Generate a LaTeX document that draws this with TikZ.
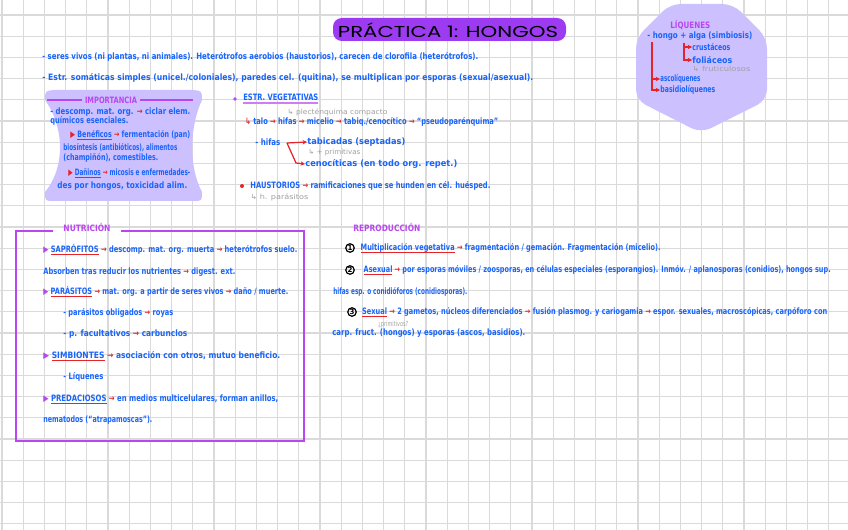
\documentclass[tikz,border=0pt]{standalone}
\usepackage{fontspec}
\setmainfont{DejaVu Sans}
\newfontfamily\titlefont{Poppins}
\usepackage{graphicx}
\usetikzlibrary{arrows.meta, positioning}

\definecolor{ink}{RGB}{25,100,250}
\definecolor{redink}{RGB}{230,35,40}
\definecolor{purp}{RGB}{185,70,240}
\definecolor{lav}{RGB}{205,192,255}
\definecolor{gridc}{RGB}{218,218,218}
\definecolor{grayink}{RGB}{160,160,160}

% 1 px de la hoja
\newlength\pxu \setlength\pxu{0.02cm}
\newcommand{\fitw}[2]{\resizebox{#1\pxu}{\height}{#2}}
\newcommand{\ra}{{\color{redink}→}}
\newcommand{\rtri}{{\color{redink}▶}}
\newcommand{\ptri}{{\color{purp}▶}}
\newsavebox\ulbox
\newcommand{\rul}[1]{\sbox\ulbox{#1}\rlap{\color{redink}\rule[-1.3pt]{\wd\ulbox}{0.5pt}}\usebox\ulbox}
\newcommand{\pul}[1]{\sbox\ulbox{#1}\rlap{\color{purp!70}\rule[-1.6pt]{\wd\ulbox}{0.8pt}}\usebox\ulbox}

\tikzset{
    note/.style={anchor=west, inner sep=0pt, text=ink, font=\fontsize{5}{6}\selectfont\bfseries},
    gnote/.style={note, text=grayink, font=\fontsize{4}{5}\selectfont},
    head/.style={note, text=purp},
    redarr/.style={draw=redink, line width=0.7pt, -{Stealth[length=2.5pt,width=2.5pt]}},
    numc/.style={circle, draw=black, line width=0.7pt, inner sep=0pt, minimum size=0.17cm, font=\fontsize{4}{4}\selectfont\bfseries},
    nutframe/.style={draw=purp, line width=0.9pt},
    gridline/.style={draw=gridc, line width=0.75pt}
}

\begin{document}
\begin{tikzpicture}[x=0.02cm, y=-0.02cm]
    \fill[white] (0,0) rectangle (848,530);
    \useasboundingbox (0,0) rectangle (848,530);
    % cuadricula
    \foreach \i in {0,...,39} \draw[gridline] ({2+21.2*\i},0) -- ({2+21.2*\i},530);
    \foreach \j in {0,...,24} \draw[gridline] (0,{15+21.2*\j}) -- (848,{15+21.2*\j});

    % titulo
    \fill[purp!85!blue, rounded corners=5pt] (333,18) rectangle (566,41);
    \node[inner sep=0pt, font=\titlefont\fontsize{9}{10}\selectfont] (titulo) at (448,30) {\fitw{220}{PRÁCTICA 1: HONGOS}};

    \node[note] (gen1) at (42,57) {\fitw{436}{- seres vivos (ni plantas, ni animales). Heterótrofos aerobios (haustorios), carecen de clorofila (heterótrofos).}};
    \node[note] (gen2) at (42,78) {\fitw{491}{- Estr. somáticas simples (unicel./coloniales), paredes cel. (quitina), se multiplican por esporas (sexual/asexual).}};

    % importancia
    \fill[lav] (45,100) .. controls (45,91) .. (54,90) -- (193,90) .. controls (202,91) .. (202,100)
        .. controls (189,128) and (189,168) .. (202,192) .. controls (202,201) .. (193,201)
        -- (54,201) .. controls (45,201) .. (45,192) .. controls (65,168) and (65,128) .. (45,100) -- cycle;
    \node[head, anchor=center, inner xsep=0.06cm] (imp) at (111,100) {\fitw{52}{IMPORTANCIA}};
    \draw[purp, line width=0.7pt] (47,100) -- (imp.west);
    \draw[purp, line width=0.7pt] (imp.east) -- (193,100);
    \node[note] (imp1) at (50,112) {\fitw{140}{- descomp. mat. org. \ra{} ciclar elem.}};
    \node[note] (imp2) at (50,121) {\fitw{78}{químicos esenciales.}};
    \node[note] (imp3) at (70,135) {\fitw{120}{\rtri{} \rul{Benéficos} \ra{} fermentación (pan)}};
    \node[note] (imp4) at (63,148) {\fitw{114}{biosíntesis (antibióticos), alimentos}};
    \node[note] (imp5) at (63,158) {\fitw{95}{(champiñón), comestibles.}};
    \node[note] (imp6) at (68,173) {\fitw{122}{\rtri{} \rul{Dañinos} \ra{} micosis e enfermedades-}};
    \node[note] (imp7) at (57,186) {\fitw{130}{des por hongos, toxicidad alim.}};

    % estructuras vegetativas
    \fill[purp] (235,99) circle (1.8);
    \node[note] (veg) at (243,99) {\fitw{75}{\pul{ESTR. VEGETATIVAS}}};
    \node[gnote] (plec) at (287,112) {\fitw{100}{↳ plecténquima compacto}};
    \node[note] (talo) at (245,122) {\fitw{253}{{\color{redink}↳} talo \ra{} hifas \ra{} micelio \ra{} tabiq./cenocítico \ra{} “pseudoparénquima”}};
    \node[note] (hifas) at (255,142) {\fitw{25}{- hifas}};
    \node[note] (tab) at (307,142) {\fitw{98}{tabicadas (septadas)}};
    \node[gnote] (prim) at (308,153) {\fitw{52}{↳ + primitivas}};
    \node[note] (ceno) at (305,164) {\fitw{152}{cenocíticas (en todo org. repet.)}};
    \coordinate (hf) at (287,143);
    \draw[redarr] (hf) -- (tab.west);
    \draw[redarr] (hf) -- (296,163) -- (ceno.west);
    \fill[redink] (242,186) circle (2);
    \node[note] (haus) at (250,186) {\fitw{240}{HAUSTORIOS \ra{} ramificaciones que se hunden en cél. huésped.}};
    \node[gnote] (hpar) at (250,197) {\fitw{58}{↳ h. parásitos}};

    % liquenes
    \fill[lav, rounded corners=6pt] (670,4) -- (733,4) -- (767,38) -- (767,100) -- (701,133) -- (636,100) -- (636,38) -- cycle;
    \node[head] (liq) at (670,25) {\fitw{40}{LÍQUENES}};
    \node[note] (liq1) at (647,36) {\fitw{105}{- hongo + alga (simbiosis)}};
    \node[note] (crus) at (692,47) {\fitw{38}{crustáceos}};
    \node[note] (foli) at (692,60) {\fitw{40}{foliáceos}};
    \node[gnote] (frut) at (692,69) {\fitw{58}{↳ fruticulosos}};
    \node[note] (asco) at (660,79) {\fitw{40}{ascolíquenes}};
    \node[note] (basi) at (660,90) {\fitw{55}{basidiolíquenes}};
    \coordinate (lqa) at (652,42);
    \coordinate (lqb) at (684,43);
    \draw[redarr] (lqa) |- (asco.west);
    \draw[redarr] (lqa) |- (basi.west);
    \draw[redarr] (lqb) |- (crus.west);
    \draw[redarr] (lqb) |- (foli.west);

    % nutricion
    \node[head, anchor=center, inner xsep=0.2cm] (nutri) at (87,227) {\fitw{47}{NUTRICIÓN}};
    \coordinate (nf) at (0,231);
    \draw[nutframe] (nutri.west |- nf) -- (16,231) -- (16,441) -- (304,441) -- (304,231) -- (nutri.east |- nf);
    \node[note] (sap) at (43,250) {\fitw{254}{\ptri{} \rul{SAPRÓFITOS} \ra{} descomp. mat. org. muerta \ra{} heterótrofos suelo.}};
    \node[note] (sap2) at (43,272) {\fitw{192}{Absorben tras reducir los nutrientes \ra{} digest. ext.}};
    \node[note] (par) at (43,292) {\fitw{245}{\ptri{} \rul{PARÁSITOS} \ra{} mat. org. a partir de seres vivos \ra{} daño / muerte.}};
    \node[note] (par2) at (63,313) {\fitw{110}{- parásitos obligados \ra{} royas}};
    \node[note] (par3) at (63,334) {\fitw{124}{- p. facultativos \ra{} carbunclos}};
    \node[note] (sim) at (43,356) {\fitw{237}{\ptri{} \rul{SIMBIONTES} \ra{} asociación con otros, mutuo beneficio.}};
    \node[note] (sim2) at (63,377) {\fitw{40}{- Líquenes}};
    \node[note] (pre) at (43,399) {\fitw{235}{\ptri{} \rul{PREDACIOSOS} \ra{} en medios multicelulares, forman anillos,}};
    \node[note] (pre2) at (43,420) {\fitw{109}{nematodos (“atrapamoscas”).}};

    % reproduccion
    \node[head] (repro) at (353,227) {\fitw{67}{REPRODUCCIÓN}};
    \node[numc] (c1) at (350,248) {1};
    \node[note, right=0.11cm of c1] (r1) {\fitw{300}{\rul{Multiplicación vegetativa} \ra{} fragmentación / gemación. Fragmentación (micelio).}};
    \node[numc] (c2) at (350,270) {2};
    \node[note, right=0.17cm of c2] (r2) {\fitw{467}{\rul{Asexual} \ra{} por esporas móviles / zoosporas, en células especiales (esporangios). Inmóv. / aplanosporas (conidios), hongos sup.}};
    \node[note] (r3) at (333,292) {\fitw{134}{hifas esp. o conidióforos (conidiosporas).}};
    \node[numc] (c3) at (352,312) {3};
    \node[note, right=0.1cm of c3] (r4) {\fitw{465}{\rul{Sexual} \ra{} 2 gametos, núcleos diferenciados \ra{} fusión plasmog. y cariogamia \ra{} espor. sexuales, macroscópicas, carpóforo con}};
    \node[gnote] (r4g) at (378,325) {\fitw{30}{¿primitivos?}};
    \node[note] (r5) at (332,333) {\fitw{193}{carp. fruct. (hongos) y esporas (ascos, basidios).}};
\end{tikzpicture}
\end{document}
